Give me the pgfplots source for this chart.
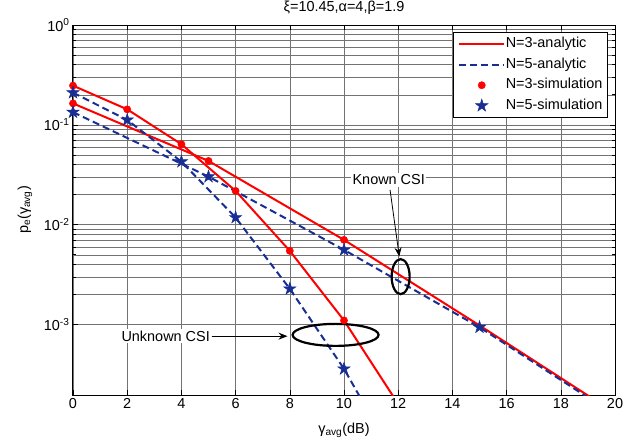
\documentclass[border=0pt]{standalone}
\usepackage{fontspec}
\setmainfont{Liberation Sans}
\usepackage{pgfplots}
\pgfplotsset{compat=1.18}
\usetikzlibrary{arrows.meta}

% filled five-pointed star, like matlab's pentagram
\pgfdeclareplotmark{pentagram}{%
  \pgfpathmoveto{\pgfpointpolar{90}{\pgfplotmarksize}}%
  \pgfpathlineto{\pgfpointpolar{126}{0.382\pgfplotmarksize}}%
  \pgfpathlineto{\pgfpointpolar{162}{\pgfplotmarksize}}%
  \pgfpathlineto{\pgfpointpolar{198}{0.382\pgfplotmarksize}}%
  \pgfpathlineto{\pgfpointpolar{234}{\pgfplotmarksize}}%
  \pgfpathlineto{\pgfpointpolar{270}{0.382\pgfplotmarksize}}%
  \pgfpathlineto{\pgfpointpolar{306}{\pgfplotmarksize}}%
  \pgfpathlineto{\pgfpointpolar{342}{0.382\pgfplotmarksize}}%
  \pgfpathlineto{\pgfpointpolar{18}{\pgfplotmarksize}}%
  \pgfpathlineto{\pgfpointpolar{54}{0.382\pgfplotmarksize}}%
  \pgfpathclose
  \pgfusepathqfillstroke}

\definecolor{mred}{rgb}{1,0,0}
\definecolor{mblue}{rgb}{0.1,0.18,0.58}

\newcommand{\fs}{\fontsize{14.5}{17}\selectfont}

\pgfplotsset{
  lineleg/.style={legend image code/.code={\draw[##1] (0bp,0bp) -- (45bp,0bp);}},
  markleg/.style={legend image code/.code={\draw[##1] plot coordinates {(23bp,0bp)};}},
}

\begin{document}
\begin{tikzpicture}
\begin{axis}[
  scale only axis,
  width=542bp, height=370bp,
  xmin=0, xmax=20,
  ymode=log, ymin=1.97e-4, ymax=1,
  xtick={0,2,...,20},
  ytick={1e-3,1e-2,1e-1,1},
  yticklabels={10\textsuperscript{-3},10\textsuperscript{-2},10\textsuperscript{-1},10\textsuperscript{0}},
  /pgf/number format/assume math mode=true,
  tick label style={font=\fs},
  label style={font=\fs},
  title style={font=\fs, yshift=1bp},
  grid=both,
  major grid style={black!55, line width=0.5bp},
  minor grid style={black!55, line width=0.5bp},
  axis line style={line width=1bp},
  major tick length=5bp, minor tick length=3bp,
  tick style={black, line width=0.6bp},
  title={ξ=10.45,α=4,β=1.9},
  xlabel={γ\textsubscript{avg}(dB)},
  ylabel={p\textsubscript{e}(γ\textsubscript{avg})},
  xlabel style={at={(axis description cs:0.5,-0.0946)}, anchor=center},
  ylabel style={at={(axis description cs:-0.0886,0.5)}, anchor=center},
  legend style={at={(rel axis cs:0.987,0.981)}, anchor=north east,
    draw=black, line width=0.9bp, fill=white, font=\fs,
    inner xsep=4bp, inner ysep=4bp, /tikz/row sep=5bp,
    nodes={inner xsep=1bp, inner ysep=1bp, text height=10.5bp, text depth=3bp},
    /tikz/every even column/.append style={column sep=5bp}},
  legend cell align=left,
]

% N=3 analytic, unknown CSI
\addplot[mred, line width=2bp, mark=none, lineleg]
  coordinates {(0,0.247) (2,0.143) (4,0.064) (6,0.0218) (8,5.47e-3) (10,1.1e-3) (12,1.6e-4)};
\addlegendentry{N=3-analytic}
% N=3 analytic, known CSI
\addplot[mred, line width=2bp, mark=none, forget plot]
  coordinates {(0,0.164) (5,0.0435) (10,7.05e-3) (15,9.8e-4) (20,1.3e-4)};

% N=5 analytic, unknown CSI
\addplot[mblue, line width=2bp, dash pattern=on 7bp off 4bp, mark=none, lineleg]
  coordinates {(0,0.21) (2,0.112) (4,0.0428) (6,0.0118) (8,2.28e-3) (10,3.6e-4) (12,4e-5)};
\addlegendentry{N=5-analytic}
% N=5 analytic, known CSI
\addplot[mblue, line width=2bp, dash pattern=on 7bp off 4bp, mark=none, forget plot]
  coordinates {(0,0.134) (5,0.0303) (10,5.6e-3) (15,9.4e-4) (20,1.24e-4)};

% simulation points
\addplot[only marks, mark=*, mark size=3.6bp, mred, fill=mred, line width=0.5bp, markleg]
  coordinates {(0,0.247) (2,0.143) (4,0.064) (6,0.0218) (8,5.47e-3) (10,1.1e-3)
               (0,0.164) (5,0.0435) (10,7.05e-3)};
\addlegendentry{N=3-simulation}
\addplot[only marks, mark=pentagram, mark size=6.5bp, mblue, fill=mblue, line width=0.5bp, markleg]
  coordinates {(0,0.21) (2,0.112) (4,0.0428) (6,0.0118) (8,2.28e-3) (10,3.6e-4)
               (0,0.134) (5,0.0303) (10,5.6e-3) (15,9.4e-4)};
\addlegendentry{N=5-simulation}

% annotations
\node[fill=white, inner sep=1.5bp, font=\fs] at (axis cs:11.65,0.0281) {Known CSI};
\draw[line width=0.8bp, -{Stealth[length=9bp,width=7bp]}]
  (axis cs:11.70,0.0223) -- (axis cs:12.04,4.8e-3);
\draw[line width=2.2bp] (axis cs:12.09,3.02e-3) ellipse [x radius=9bp, y radius=17.5bp];

\node[fill=white, inner sep=1.5bp, font=\fs] (uc) at (axis cs:3.42,7.65e-4) {Unknown CSI};
\draw[line width=1.2bp, -{Stealth[length=9bp,width=7bp]}] (uc.east) -- ++(76bp,0bp);
\draw[line width=2.2bp] (axis cs:9.69,7.88e-4) ellipse [x radius=43bp, y radius=11bp];
\end{axis}
\pgfresetboundingbox
\path[use as bounding box] (-73bp,-53bp) rectangle (571bp,395bp);
\end{tikzpicture}
\end{document}
